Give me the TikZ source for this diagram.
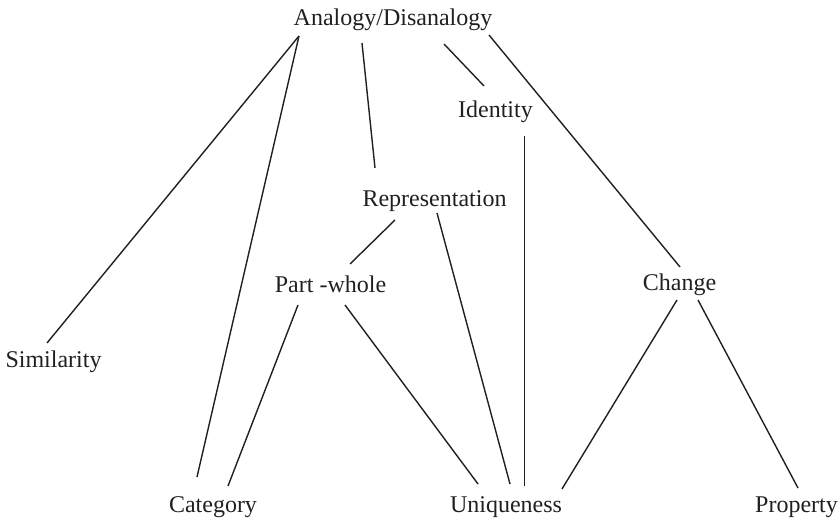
\documentclass[tikz,border=0pt]{standalone}
\usepackage{fontspec}
\setmainfont{Liberation Serif}
\definecolor{ink}{HTML}{231F20}
\begin{document}
\begin{tikzpicture}[x=1pt, y=-1pt,
  term/.style={anchor=base, inner sep=0pt, text=ink, font=\fontsize{24}{28}\selectfont},
  link/.style={draw=ink, line width=1.4pt}]
\useasboundingbox (0,0) rectangle (839,521);

% concept labels (positioned by their baselines)
\node[term] (ana)  at (393,26)    {Analogy/Disanalogy};
\node[term] (idn)  at (495.5,118) {Identity};
\node[term] (rep)  at (434.5,207) {Representation};
\node[term] (pw)   at (330.5,293) {Part -whole};
\node[term] (chg)  at (679.5,291) {Change};
\node[term] (sim)  at (53.5,368)  {Similarity};
\node[term] (cat)  at (213,513)   {Category};
\node[term] (uni)  at (506,513)   {Uniqueness};
\node[term] (prop) at (796.5,513) {Property};

% links out of Analogy/Disanalogy
\draw[link] ([shift={(-94,10)}]ana.base) -- ([shift={(-6.5,-25)}]sim.base);
\draw[link] ([shift={(-94,10)}]ana.base) -- ([shift={(-16,-36)}]cat.base);
\draw[link] ([shift={(-31,17)}]ana.base) -- ([shift={(-59.5,-39)}]rep.base);
\draw[link] ([shift={(51,18)}]ana.base)  -- ([shift={(-11.5,-32)}]idn.base);
\draw[link] ([shift={(96,9)}]ana.base)   -- ([shift={(0.5,-24)}]chg.base);

% Identity
\draw[link] ([shift={(29,18)}]idn.base) -- ([shift={(18.5,-27)}]uni.base);

% Representation
\draw[link] ([shift={(-39.5,13)}]rep.base) -- ([shift={(19.5,-29)}]pw.base);
\draw[link] ([shift={(2.5,6)}]rep.base)    -- ([shift={(4,-29)}]uni.base);

% Part -whole
\draw[link] ([shift={(-32.5,12)}]pw.base) -- ([shift={(15,-27)}]cat.base);
\draw[link] ([shift={(14.5,12)}]pw.base)  -- ([shift={(-28,-29)}]uni.base);

% Change
\draw[link] ([shift={(-2.5,9)}]chg.base) -- ([shift={(56,-24)}]uni.base);
\draw[link] ([shift={(18.5,9)}]chg.base) -- ([shift={(1.5,-25)}]prop.base);
\end{tikzpicture}
\end{document}
